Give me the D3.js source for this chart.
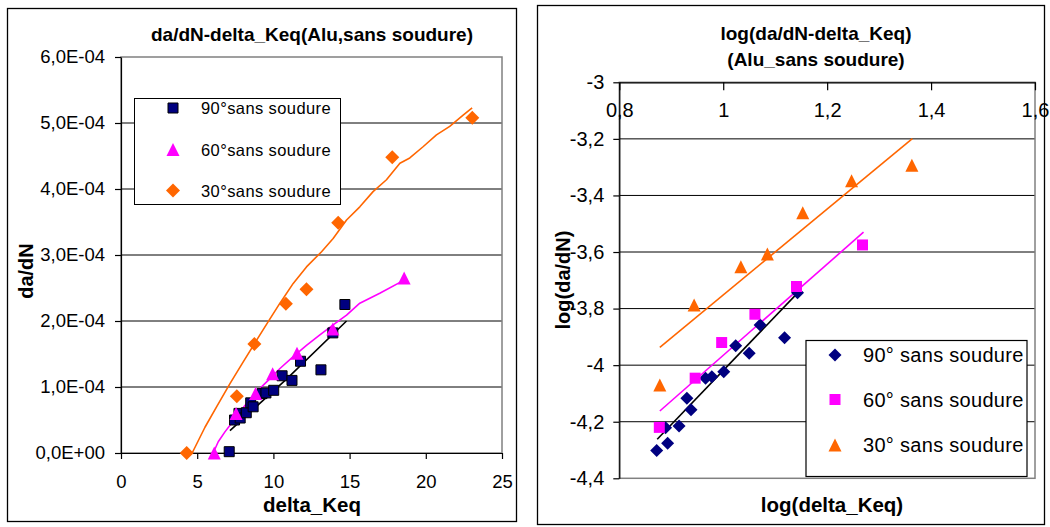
<!DOCTYPE html>
<html><head><meta charset="utf-8">
<script src="https://cdn.jsdelivr.net/npm/d3@7"></script>
<style>body{margin:0;background:#fff} svg{display:block} text{font-family:"Liberation Sans",Arial,sans-serif;fill:#000}</style>
</head><body><svg id="c" width="1050" height="527"></svg>
<script>
// ---------- data ----------
const namesLin = ["90°sans soudure", "60°sans soudure", "30°sans soudure"];
const namesLog = ["90° sans soudure", "60° sans soudure", "30° sans soudure"];

// left chart: da/dN vs delta_Keq
const k90 = [7.10, 7.45, 7.74, 7.82, 8.22, 8.51, 8.67, 9.25, 9.51, 10.02, 10.57, 11.22, 11.78, 13.12, 13.90, 14.69];
const d90 = [0.02e-4, 0.50e-4, 0.60e-4, 0.53e-4, 0.61e-4, 0.76e-4, 0.70e-4, 0.90e-4, 0.91e-4, 0.95e-4, 1.17e-4, 1.10e-4, 1.39e-4, 1.26e-4, 1.82e-4, 2.25e-4];
const k60 = [6.12, 7.55, 8.83, 9.95, 11.55, 13.90, 18.58];
const d60 = [0, 0.60e-4, 0.90e-4, 1.20e-4, 1.51e-4, 1.88e-4, 2.65e-4];
const k30 = [4.31, 7.60, 8.75, 10.82, 12.17, 14.25, 17.80, 23.05];
const d30 = [0, 0.86e-4, 1.65e-4, 2.26e-4, 2.48e-4, 3.49e-4, 4.48e-4, 5.08e-4];

// left chart fitted curves
const fit90K = [7.15, 10.86, 14.80];
const fit90D = [0.34e-4, 1.12e-4, 2.00e-4];
const fit60K = [6.05, 6.38, 6.82, 7.48, 8.13, 8.90, 9.66, 10.43, 11.30, 12.17, 13.05, 13.92, 14.80, 15.67, 16.98, 18.58];
const fit60D = [0, 0.17e-4, 0.32e-4, 0.52e-4, 0.72e-4, 0.93e-4, 1.10e-4, 1.28e-4, 1.46e-4, 1.63e-4, 1.79e-4, 1.94e-4, 2.09e-4, 2.27e-4, 2.42e-4, 2.62e-4];
const fit30K = [4.67, 5.51, 6.27, 7.15, 8.02, 8.90, 9.66, 10.43, 11.30, 12.17, 13.16, 13.92, 14.80, 15.67, 16.54, 17.42, 18.30, 18.95, 19.82, 20.70, 21.57, 22.45, 23.04];
const fit30D = [0, 0.39e-4, 0.70e-4, 1.05e-4, 1.38e-4, 1.71e-4, 1.99e-4, 2.27e-4, 2.57e-4, 2.82e-4, 3.05e-4, 3.25e-4, 3.53e-4, 3.73e-4, 3.96e-4, 4.14e-4, 4.39e-4, 4.47e-4, 4.64e-4, 4.82e-4, 4.95e-4, 5.12e-4, 5.23e-4];

const linXTicks = [0, 5, 10, 15, 20, 25];
const linXLabels = ["0", "5", "10", "15", "20", "25"];
const linYTicks = [0, 1e-4, 2e-4, 3e-4, 4e-4, 5e-4, 6e-4];
const linYLabels = ["0,0E+00", "1,0E-04", "2,0E-04", "3,0E-04", "4,0E-04", "5,0E-04", "6,0E-04"];

// right chart: log(da/dN) vs log(delta_Keq)
const lk90 = [0.872, 0.889, 0.893, 0.915, 0.930, 0.938, 0.966, 0.978, 1.001, 1.024, 1.050, 1.071, 1.118, 1.143];
const ld90 = [-4.302, -4.221, -4.276, -4.215, -4.117, -4.158, -4.046, -4.041, -4.023, -3.931, -3.958, -3.858, -3.903, -3.744];
const lk60 = [0.877, 0.946, 0.997, 1.061, 1.141, 1.268];
const ld60 = [-4.220, -4.046, -3.920, -3.820, -3.722, -3.575];
const lk30 = [0.878, 0.944, 1.034, 1.085, 1.153, 1.247, 1.363];
const ld30 = [-4.070, -3.787, -3.652, -3.607, -3.461, -3.348, -3.293];

const lfit90K = [0.873, 1.141], lfit90D = [-4.262, -3.749];
const lfit60K = [0.878, 1.270], lfit60D = [-4.162, -3.530];
const lfit30K = [0.878, 1.364], lfit30D = [-3.937, -3.199];

const logXTicks = [0.8, 1.0, 1.2, 1.4, 1.6];
const logXLabels = ["0,8", "1", "1,2", "1,4", "1,6"];
const logYTicks = [-3, -3.2, -3.4, -3.6, -3.8, -4, -4.2, -4.4];
const logYLabels = ["-3", "-3,2", "-3,4", "-3,6", "-3,8", "-4", "-4,2", "-4,4"];

const NAVY = "#000080", MAG = "#FF00FF", ORA = "#FF6600";

// ---------- helpers ----------
const svg = d3.select("#c");
const zip = (a, b) => a.map((v, i) => [v, b[i]]);

function markerPath(type, s) {
  const h = s / 2;
  if (type === "square") return `M${-h},${-h}H${h}V${h}H${-h}Z`;
  if (type === "diamond") return `M0,${-h}L${h},0L0,${h}L${-h},0Z`;
  return `M0,${-h}L${h},${h}L${-h},${h}Z`; // triangle
}

function drawMarkers(g, x, y, xs, ys, type, size, fill, stroke) {
  g.selectAll(null).data(zip(xs, ys)).join("path")
    .attr("transform", d => `translate(${x(d[0])},${y(d[1])})`)
    .attr("d", markerPath(type, size))
    .attr("fill", fill)
    .attr("stroke", stroke || "none")
    .attr("stroke-width", stroke ? 1 : 0);
}

function drawLine(g, x, y, xs, ys, color, w) {
  g.append("path").datum(zip(xs, ys))
    .attr("d", d3.line().x(d => x(d[0])).y(d => y(d[1])))
    .attr("fill", "none").attr("stroke", color).attr("stroke-width", w)
    .attr("stroke-linejoin", "round");
}

// ---------- LEFT CHART ----------
svg.append("rect").attr("x", 7.5).attr("y", 8.5).attr("width", 509).attr("height", 513)
  .attr("fill", "#fff").attr("stroke", "#000").attr("stroke-width", 1.3);

const xL = d3.scaleLinear().domain([0, 25]).range([121, 502]);
const yL = d3.scaleLinear().domain([0, 6e-4]).range([453, 57]);
const gL = svg.append("g");

gL.selectAll(null).data(linYTicks.slice(1, -1)).join("line")
  .attr("x1", xL(0)).attr("x2", xL(25)).attr("y1", d => yL(d)).attr("y2", d => yL(d))
  .attr("stroke", "#000").attr("stroke-width", 1);
gL.append("rect").attr("x", xL(0)).attr("y", yL(6e-4)).attr("width", xL(25) - xL(0)).attr("height", yL(0) - yL(6e-4))
  .attr("fill", "none").attr("stroke", "#808080").attr("stroke-width", 1.5);

const axLY = gL.append("g").attr("transform", `translate(${xL(0)},0)`)
  .call(d3.axisLeft(yL).tickValues(linYTicks).tickFormat((d, i) => linYLabels[i]).tickSize(6).tickPadding(10).tickSizeOuter(0));
const axLX = gL.append("g").attr("transform", `translate(0,${yL(0)})`)
  .call(d3.axisBottom(xL).tickValues(linXTicks).tickFormat((d, i) => linXLabels[i]).tickSize(6).tickPadding(16).tickSizeOuter(0));
[axLY, axLX].forEach(a => {
  a.selectAll("text").attr("font-size", 18.5).attr("font-family", "Liberation Sans, Arial, sans-serif").attr("fill", "#000");
  a.selectAll("line,path").attr("stroke", "#000").attr("stroke-width", 1.2);
});

drawLine(gL, xL, yL, fit30K, fit30D, ORA, 1.6);
drawLine(gL, xL, yL, fit60K, fit60D, MAG, 1.6);
drawLine(gL, xL, yL, fit90K, fit90D, "#000", 1.6);
drawMarkers(gL, xL, yL, k30, d30, "diamond", 14, ORA);
drawMarkers(gL, xL, yL, k90, d90, "square", 10, NAVY, "#000");
drawMarkers(gL, xL, yL, k60, d60, "triangle", 13, MAG);

// left legend
const legL = svg.append("g");
legL.append("rect").attr("x", 134.5).attr("y", 98.5).attr("width", 206).attr("height", 106)
  .attr("fill", "#fff").attr("stroke", "#000").attr("stroke-width", 1);
const legLTypes = [["square", 10, NAVY, "#000"], ["triangle", 13, MAG, null], ["diamond", 14, ORA, null]];
const legLy = [108, 149.5, 190.5];
namesLin.forEach((n, i) => {
  const t = legLTypes[i];
  legL.append("path").attr("transform", `translate(173,${legLy[i]})`).attr("d", markerPath(t[0], t[1]))
    .attr("fill", t[2]).attr("stroke", t[3] || "none").attr("stroke-width", t[3] ? 1 : 0);
  legL.append("text").attr("x", 201).attr("y", legLy[i] + 6).attr("font-size", 16.5).attr("letter-spacing", 0.4).text(n);
});

svg.append("text").attr("x", 312).attr("y", 41).attr("text-anchor", "middle").attr("font-weight", "bold")
  .attr("font-size", 19).text("da/dN-delta_Keq(Alu,sans soudure)");
svg.append("text").attr("x", 312).attr("y", 512).attr("text-anchor", "middle").attr("font-weight", "bold")
  .attr("font-size", 20.5).text("delta_Keq");
svg.append("text").attr("transform", "translate(33,271) rotate(-90)").attr("text-anchor", "middle").attr("font-weight", "bold")
  .attr("font-size", 20).text("da/dN");

// ---------- RIGHT CHART ----------
svg.append("rect").attr("x", 537.5).attr("y", 5.5).attr("width", 507).attr("height", 519)
  .attr("fill", "#fff").attr("stroke", "#000").attr("stroke-width", 1.3);

const xR = d3.scaleLinear().domain([0.8, 1.6]).range([619.3, 1035]);
const yR = d3.scaleLinear().domain([-4.4, -3]).range([478.3, 82.3]);
const gR = svg.append("g");

gR.selectAll(null).data(logYTicks.slice(1, -1)).join("line")
  .attr("x1", xR(0.8)).attr("x2", xR(1.6)).attr("y1", d => yR(d)).attr("y2", d => yR(d))
  .attr("stroke", "#000").attr("stroke-width", 1);
gR.append("rect").attr("x", xR(0.8)).attr("y", yR(-3)).attr("width", xR(1.6) - xR(0.8)).attr("height", yR(-4.4) - yR(-3))
  .attr("fill", "none").attr("stroke", "#808080").attr("stroke-width", 1.5);

const axRY = gR.append("g").attr("transform", `translate(${xR(0.8)},0)`)
  .call(d3.axisLeft(yR).tickValues(logYTicks).tickFormat((d, i) => logYLabels[i]).tickSize(6).tickPadding(9).tickSizeOuter(0));
const axRX = gR.append("g").attr("transform", `translate(0,${yR(-3)})`)
  .call(d3.axisBottom(xR).tickValues(logXTicks).tickFormat((d, i) => logXLabels[i]).tickSize(8).tickPadding(13).tickSizeOuter(0));
[axRY, axRX].forEach(a => {
  a.selectAll("text").attr("font-size", 20).attr("font-family", "Liberation Sans, Arial, sans-serif").attr("fill", "#000");
  a.selectAll("line,path").attr("stroke", "#000").attr("stroke-width", 1.2);
});

drawLine(gR, xR, yR, lfit30K, lfit30D, ORA, 1.6);
drawLine(gR, xR, yR, lfit60K, lfit60D, MAG, 1.6);
drawLine(gR, xR, yR, lfit90K, lfit90D, "#000", 1.6);
drawMarkers(gR, xR, yR, lk30, ld30, "triangle", 13, ORA);
drawMarkers(gR, xR, yR, lk90, ld90, "diamond", 13, NAVY);
drawMarkers(gR, xR, yR, lk60, ld60, "square", 11, MAG);

// right legend
const legR = svg.append("g");
legR.append("rect").attr("x", 806).attr("y", 340.5).attr("width", 221).attr("height", 136)
  .attr("fill", "#fff").attr("stroke", "#000").attr("stroke-width", 1.2);
const legRTypes = [["diamond", 13, NAVY], ["square", 11, MAG], ["triangle", 13, ORA]];
const legRy = [355, 399.5, 445];
namesLog.forEach((n, i) => {
  const t = legRTypes[i];
  legR.append("path").attr("transform", `translate(835,${legRy[i]})`).attr("d", markerPath(t[0], t[1])).attr("fill", t[2]);
  legR.append("text").attr("x", 863).attr("y", legRy[i] + 7).attr("font-size", 20).attr("letter-spacing", 0.3).text(n);
});

svg.append("text").attr("x", 816).attr("y", 40).attr("text-anchor", "middle").attr("font-weight", "bold")
  .attr("font-size", 19).text("log(da/dN-delta_Keq)");
svg.append("text").attr("x", 816).attr("y", 66).attr("text-anchor", "middle").attr("font-weight", "bold")
  .attr("font-size", 19).text("(Alu_sans soudure)");
svg.append("text").attr("x", 832).attr("y", 512).attr("text-anchor", "middle").attr("font-weight", "bold")
  .attr("font-size", 20.5).text("log(delta_Keq)");
svg.append("text").attr("transform", "translate(570,280) rotate(-90)").attr("text-anchor", "middle").attr("font-weight", "bold")
  .attr("font-size", 20).text("log(da/dN)");
</script></body></html>
